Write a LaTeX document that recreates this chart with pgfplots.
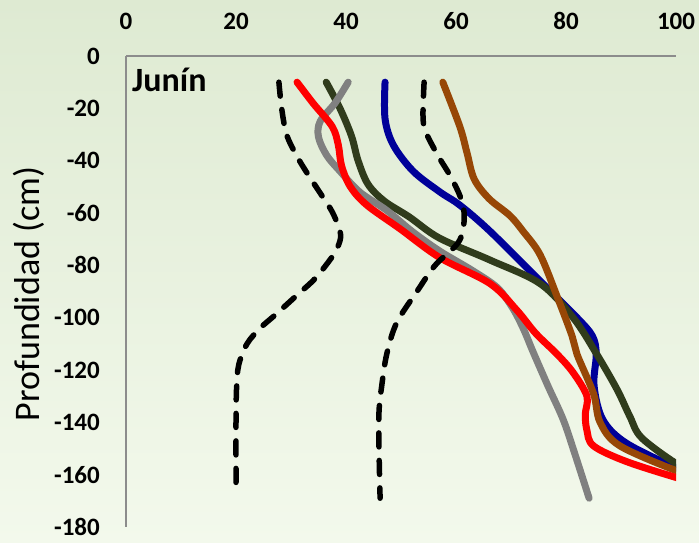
\documentclass[border=0pt]{standalone}
\usepackage{pgfplots}
\pgfplotsset{compat=1.18}
\usepackage{fontspec}
\setmainfont{Carlito}
\definecolor{bgtop}{RGB}{222,234,210}
\definecolor{bgbot}{RGB}{243,249,236}
\definecolor{axgray}{RGB}{140,140,140}
\definecolor{cblue}{RGB}{0,0,153}
\definecolor{cbrown}{RGB}{151,71,6}
\definecolor{colive}{RGB}{48,60,28}
\definecolor{cgray}{RGB}{128,128,128}
\definecolor{cred}{RGB}{255,0,0}
\begin{document}
\begin{tikzpicture}
\shade[top color=bgtop,bottom color=bgbot] (0,0) rectangle (699pt,543pt);
\begin{axis}[
  at={(126pt,16pt)}, anchor=south west,
  scale only axis, width=550pt, height=471pt,
  xmin=0, xmax=100, ymin=-180, ymax=0,
  axis x line*=top, axis y line*=left,
  axis line style={-, draw=axgray, line width=1.5pt},
  xtick={0,20,...,100}, ytick={-180,-160,...,0},
  major tick length=0pt,
  /pgf/number format/assume math mode=true,
  tick label style={font=\fontsize{25}{25}\selectfont\bfseries, inner sep=0pt},
  xticklabel style={anchor=base, yshift=26pt},
  yticklabel style={anchor=east, xshift=-26pt},
  every axis plot/.append style={smooth, tension=0.55, line join=round, line cap=round},
]
\addplot[cblue, line width=7pt] coordinates {
(47.1,-10)(47.1,-24)(48.6,-34)(52.2,-44)(57.1,-52)(60.7,-57)(66.2,-67)(75.3,-86)(82,-100)(84.8,-107)(85.5,-114)(85.1,-126)(86.7,-139)(91,-148)(100.7,-158)(104,-160)};
\addplot[colive, line width=7pt] coordinates {
(36.4,-10)(38.9,-20)(41,-30.6)(42.2,-40)(44,-49)(47,-55.5)(51.5,-61.5)(57,-69.6)(66.2,-78)(75.3,-87)(81.3,-100)(85.6,-114)(89.3,-127.5)(91.6,-137.7)(93.8,-146)(100.7,-156.6)(104,-158.5)};
\addplot[cbrown, line width=7pt] coordinates {
(57.6,-10)(60.7,-27)(62,-37)(63.3,-47)(66,-54.5)(69.8,-61)(72.2,-67)(75.3,-76)(78.4,-92)(81.1,-107)(82,-114)(85,-129)(86.2,-140)(89.8,-149)(100.7,-159)(104,-160.5)};
\addplot[cgray, line width=7pt] coordinates {
(40.4,-10)(38,-18)(35.3,-25)(35,-31)(36.5,-38)(38.9,-44)(42.5,-52)(47.4,-59)(52,-67)(57,-74.5)(63,-82)(67.5,-88.5)(70.2,-96)(72.2,-104)(74,-113)(76.7,-126)(79.5,-139)(81.6,-152)(84.2,-169)};
\addplot[cred, line width=7pt] coordinates {
(31.1,-10)(34,-18)(37.5,-27)(38.6,-34)(39.2,-42)(40.8,-50)(43.8,-57)(49.8,-66)(57,-77)(66.2,-87)(71,-97)(74.5,-106)(78.4,-114)(81.3,-121)(83.8,-130)(83.5,-137)(83.8,-143)(85,-149)(91,-155)(100.7,-161.5)(104,-163)};
\addplot[black, line width=5.5pt, dash pattern=on 14pt off 13.5pt] coordinates {
(27.8,-10)(28.3,-20)(29.2,-30)(31,-38)(33,-45)(35.5,-53)(37.6,-60)(39,-68)(38.5,-73)(37.4,-77)(34.4,-85)(31.3,-91)(27.1,-99)(24.4,-104)(22,-110)(20.5,-118)(20.1,-127)(20,-140)(20,-155)(20,-165)};
\addplot[black, line width=5.5pt, dash pattern=on 14pt off 13.5pt] coordinates {
(54.2,-10)(54,-23)(54.5,-29)(56.7,-38)(59,-46)(60.9,-54.5)(61.5,-62)(60.5,-71)(56.2,-80)(52.9,-90)(49.2,-102)(47.4,-114)(46.5,-126)(46,-136)(46,-150)(46.2,-169)};
\end{axis}
\node[anchor=base west, inner sep=0pt, font=\fontsize{34}{34}\selectfont\bfseries] at (132pt,451.5pt) {Junín};
\node[rotate=90, inner sep=0pt, font=\fontsize{36}{36}\selectfont] at (29pt,249pt) {Profundidad (cm)};
\end{tikzpicture}
\end{document}
